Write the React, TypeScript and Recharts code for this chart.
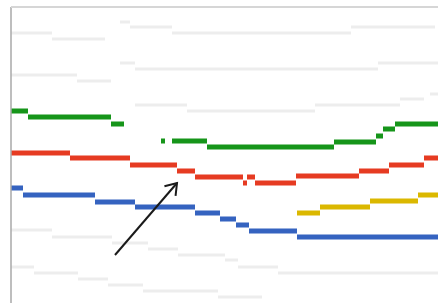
import React from "react";
import { LineChart, Line, XAxis, YAxis, ReferenceLine } from "recharts";

// Each series: horizontal steps as [xStart, xEnd, value]
const greenSteps = [
  [0, 17, 192], [17, 100, 186], [100, 113, 179],
  [150, 154, 162],
  [161, 196, 162], [196, 323, 156], [323, 365, 161], [365, 372, 167], [372, 384, 174], [384, 427, 179],
];
const redSteps = [
  [0, 59, 150], [59, 119, 145], [119, 166, 138], [166, 184, 132], [184, 232, 126],
  [232, 236, 120], [236, 244, 126], [244, 285, 120], [285, 348, 127], [348, 378, 132],
  [378, 413, 138], [413, 427, 145],
];
const blueSteps = [
  [0, 12, 115], [12, 84, 108], [84, 124, 101], [124, 184, 96], [184, 209, 90],
  [209, 225, 84], [225, 238, 78], [238, 286, 72], [286, 427, 66],
];
const yellowSteps = [[286, 309, 90], [309, 359, 96], [359, 407, 102], [407, 427, 108]];

// faint background step series
const grey1Steps = [[0, 41, 270], [41, 94, 264], [109, 119, 281], [119, 161, 276], [161, 340, 270], [340, 424, 276]];
const grey2Steps = [[0, 66, 228], [66, 100, 222], [109, 124, 240], [124, 367, 234], [367, 427, 240]];
const grey3Steps = [[124, 176, 198], [176, 304, 192], [304, 389, 198], [389, 413, 204], [419, 427, 209]];
const grey4Steps = [[0, 41, 73], [41, 101, 66], [101, 137, 60], [137, 167, 54], [167, 214, 48], [214, 227, 43], [227, 267, 36], [267, 427, 30]];
const grey5Steps = [[0, 23, 36], [23, 67, 30], [67, 97, 24], [97, 132, 18], [132, 207, 12], [207, 251, 6]];

// arrow annotation (data coords)
const arrowFrom = { x: 104, y: 48 };
const arrowTo = { x: 166, y: 120 };

const build = (steps: number[][]) => {
  const out: { x: number; y: number | null }[] = [];
  steps.forEach(([x0, x1, y]) => {
    out.push({ x: x0, y });
    out.push({ x: x1, y });
    out.push({ x: x1, y: null });
  });
  return out;
};

const colored = [
  { key: "green", data: build(greenSteps), color: "#16951a" },
  { key: "red", data: build(redSteps), color: "#e63b22" },
  { key: "blue", data: build(blueSteps), color: "#3563c0" },
  { key: "yellow", data: build(yellowSteps), color: "#dbb800" },
];

const greys = [grey1Steps, grey2Steps, grey3Steps, grey4Steps, grey5Steps].map(build);

const ArrowShape = (props: any) => {
  const { x1, y1, x2, y2 } = props;
  if ([x1, y1, x2, y2].some((v) => typeof v !== "number")) return <g />;
  const ang = Math.atan2(y2 - y1, x2 - x1);
  const len = 13;
  const spread = 0.6;
  const ax = x2 - len * Math.cos(ang - spread);
  const ay = y2 - len * Math.sin(ang - spread);
  const bx = x2 - len * Math.cos(ang + spread);
  const by = y2 - len * Math.sin(ang + spread);
  return (
    <g>
      <line x1={x1} y1={y1} x2={x2} y2={y2} stroke="#1a1a1a" strokeWidth={2} />
      <polyline
        points={`${ax},${ay} ${x2},${y2} ${bx},${by}`}
        fill="none"
        stroke="#1a1a1a"
        strokeWidth={2}
      />
    </g>
  );
};

export default function App() {
  return (
    <div style={{ position: "absolute", left: 0, top: 0, background: "#fff" }}>
      <LineChart
        width={438}
        height={303}
        margin={{ top: 7, right: 0, bottom: 0, left: 11 }}
      >
        <XAxis type="number" dataKey="x" domain={[0, 427]} hide />
        <YAxis type="number" domain={[0, 296]} hide />
        {greys.map((d, i) => (
          <Line
            key={"g" + i}
            data={d}
            dataKey="y"
            type="linear"
            stroke="#ededed"
            strokeWidth={3}
            dot={false}
            activeDot={false}
            isAnimationActive={false}
            connectNulls={false}
          />
        ))}
        {colored.map((s) => (
          <Line
            key={s.key}
            data={s.data}
            dataKey="y"
            type="linear"
            stroke={s.color}
            strokeWidth={5}
            dot={false}
            activeDot={false}
            isAnimationActive={false}
            connectNulls={false}
          />
        ))}
        <ReferenceLine x={0} stroke="#a8a8a8" strokeWidth={1.5} />
        <ReferenceLine y={296} stroke="#d6d6d6" strokeWidth={2} />
        <ReferenceLine
          segment={[arrowFrom, arrowTo]}
          shape={ArrowShape}
          ifOverflow="visible"
        />
      </LineChart>
    </div>
  );
}
